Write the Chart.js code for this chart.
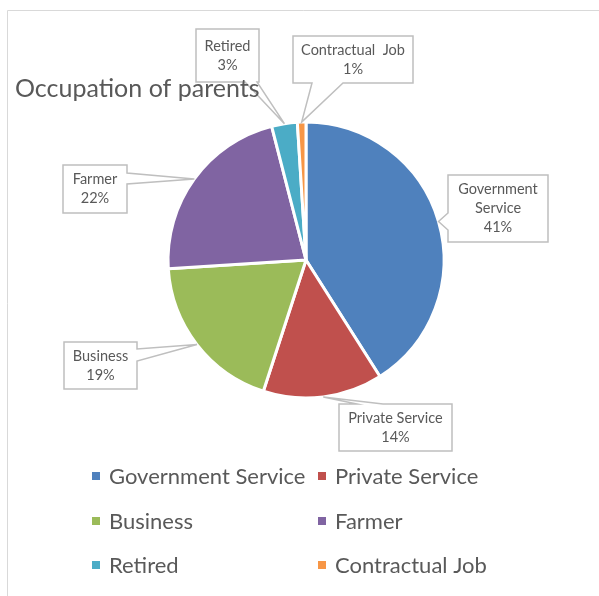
<!DOCTYPE html>
<html>
<head>
<meta charset="utf-8">
<title>Occupation of parents</title>
<script src="https://cdn.jsdelivr.net/npm/chart.js@4.4.1/dist/chart.umd.min.js"></script>
<style>
  body { margin: 0; padding: 0; background: #fff; }
  #wrap { width: 599px; height: 596px; position: relative; }
</style>
</head>
<body>
<div id="wrap"><canvas id="myChart"></canvas></div>
<script>
// Occupation categories and their share (percent)
const occupations = ['Government Service', 'Private Service', 'Business', 'Farmer', 'Retired', 'Contractual Job'];
const shares = [41, 14, 19, 22, 3, 1];
const sliceColors = ['#4F81BD', '#C0504D', '#9BBB59', '#8064A2', '#4BACC6', '#F79646'];

// Callout boxes for the data labels (box rect, which side the wedge leaves from, wedge base)
const calloutBoxes = [
  { x: 448, y: 175, w: 100, h: 67, side: 'left',   base: [213, 230], nameLines: ['Government', 'Service'] },
  { x: 339, y: 404, w: 113, h: 47, side: 'top',    base: [357, 383], nameLines: ['Private Service'] },
  { x: 64,  y: 342, w: 73,  h: 47, side: 'right',  base: [349, 361], nameLines: ['Business'] },
  { x: 63,  y: 165, w: 64,  h: 48, side: 'right',  base: [173, 184], nameLines: ['Farmer'] },
  { x: 196, y: 29,  w: 63,  h: 53, side: 'bottom', base: [245, 257], nameLines: ['Retired'] },
  { x: 293, y: 36,  w: 120, h: 47, side: 'bottom', base: [312, 343], nameLines: ['Contractual  Job'] }
];

const textColor = '#595959';
const fontFamily = 'Lato, "Open Sans", sans-serif';

function calloutPath(ctx, b, tx, ty) {
  const r = b.x + b.w, btm = b.y + b.h;
  ctx.beginPath();
  ctx.moveTo(b.x, b.y);
  if (b.side === 'top') { ctx.lineTo(b.base[0], b.y); ctx.lineTo(tx, ty); ctx.lineTo(b.base[1], b.y); }
  ctx.lineTo(r, b.y);
  if (b.side === 'right') { ctx.lineTo(r, b.base[0]); ctx.lineTo(tx, ty); ctx.lineTo(r, b.base[1]); }
  ctx.lineTo(r, btm);
  if (b.side === 'bottom') { ctx.lineTo(b.base[1], btm); ctx.lineTo(tx, ty); ctx.lineTo(b.base[0], btm); }
  ctx.lineTo(b.x, btm);
  if (b.side === 'left') { ctx.lineTo(b.x, b.base[1]); ctx.lineTo(tx, ty); ctx.lineTo(b.x, b.base[0]); }
  ctx.closePath();
}

// Frame, title and two-column legend
const decorPlugin = {
  id: 'decor',
  beforeDraw(chart) {
    const ctx = chart.ctx;
    ctx.save();
    ctx.strokeStyle = '#d9d9d9';
    ctx.lineWidth = 1;
    ctx.beginPath();
    ctx.moveTo(7.5, 596);
    ctx.lineTo(7.5, 10.5);
    ctx.lineTo(599, 10.5);
    ctx.stroke();
    ctx.restore();
  },
  afterDraw(chart) {
    const ctx = chart.ctx;
    ctx.save();
    ctx.fillStyle = textColor;
    ctx.textBaseline = 'alphabetic';
    ctx.font = '25px ' + fontFamily;
    ctx.fillText('Occupation of parents', 15, 97);

    const colX = [92, 318];
    const rowY = [476, 521, 565];
    ctx.font = '22px ' + fontFamily;
    ctx.textBaseline = 'middle';
    chart.data.labels.forEach((label, i) => {
      const x = colX[i % 2];
      const y = rowY[Math.floor(i / 2)];
      ctx.fillStyle = chart.data.datasets[0].backgroundColor[i];
      ctx.fillRect(x, y - 4, 8, 8);
      ctx.fillStyle = textColor;
      ctx.fillText(label, x + 17, y + 1);
    });
    ctx.restore();
  }
};

// Data labels in callout boxes pointing at each slice
const calloutPlugin = {
  id: 'callouts',
  afterDatasetsDraw(chart) {
    const ctx = chart.ctx;
    const values = chart.data.datasets[0].data;
    const total = values.reduce((a, b) => a + b, 0);
    chart.getDatasetMeta(0).data.forEach((arc, i) => {
      const b = calloutBoxes[i];
      const p = arc.getProps(['x', 'y', 'startAngle', 'endAngle', 'outerRadius'], true);
      const mid = (p.startAngle + p.endAngle) / 2;
      const tx = p.x + Math.cos(mid) * p.outerRadius;
      const ty = p.y + Math.sin(mid) * p.outerRadius;

      ctx.save();
      calloutPath(ctx, b, tx, ty);
      ctx.strokeStyle = '#bfbfbf';
      ctx.lineWidth = 1.5;
      ctx.lineJoin = 'miter';
      ctx.stroke();

      const lines = b.nameLines.concat([Math.round(values[i] / total * 100) + '%']);
      const lineH = 19;
      const cx = b.x + b.w / 2;
      const cy = b.y + b.h / 2;
      ctx.fillStyle = textColor;
      ctx.font = '14.5px ' + fontFamily;
      ctx.textAlign = 'center';
      ctx.textBaseline = 'middle';
      lines.forEach((t, k) => {
        ctx.fillText(t, cx, cy + (k - (lines.length - 1) / 2) * lineH);
      });
      ctx.restore();
    });
  }
};

window.onload = function() {
  const ctx = document.getElementById('myChart').getContext('2d');
  const occupationChart = new Chart(ctx, {
    type: 'pie',
    data: {
      labels: occupations,
      datasets: [{
        data: shares,
        backgroundColor: sliceColors,
        borderColor: '#ffffff',
        borderWidth: 3
      }]
    },
    options: {
      responsive: true,
      maintainAspectRatio: false,
      animation: false,
      radius: 138,
      layout: { padding: { left: 168, right: 155, top: 122, bottom: 198 } },
      plugins: {
        legend: { display: false },
        title: { display: false },
        tooltip: { enabled: false }
      }
    },
    plugins: [decorPlugin, calloutPlugin]
  });
};
</script>
</body>
</html>
